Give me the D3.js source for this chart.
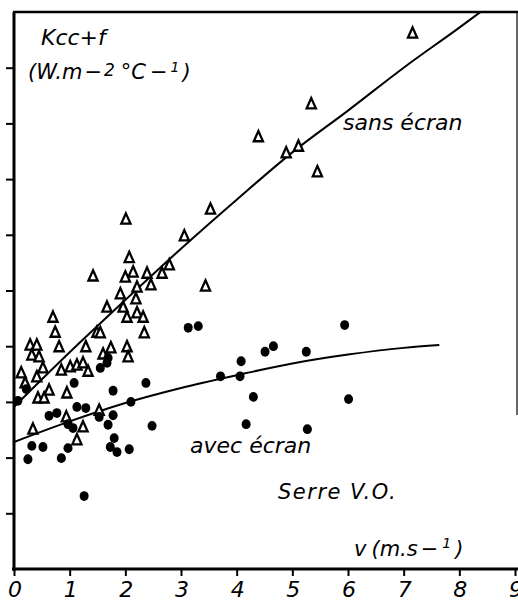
<!DOCTYPE html>
<html>
<head>
<meta charset="utf-8">
<script src="https://cdn.jsdelivr.net/npm/d3@7"></script>
<style>
  body { margin: 0; background: #fff; }
  svg { display: block; }
  text { font-family: "DejaVu Sans", sans-serif; font-style: italic; fill: #000; }
</style>
</head>
<body>
<svg id="chart" width="518" height="603"></svg>
<script>
// Kcc+f vs v (y in tick units, ticks unlabeled)
const sansEcran = [
  [7.16, 9.62], [5.34, 8.35], [4.39, 7.76], [4.89, 7.47], [5.11, 7.59], [5.45, 7.13],
  [3.53, 6.46], [2.01, 6.28], [3.06, 5.98], [2.07, 5.59], [1.42, 5.26], [2.14, 5.33],
  [2.00, 5.24], [2.39, 5.31], [2.21, 5.06], [2.46, 5.10], [2.66, 5.31], [2.79, 5.46],
  [1.91, 4.94], [2.19, 4.85], [1.67, 4.70], [1.96, 4.70], [2.21, 4.60], [2.03, 4.52],
  [2.32, 4.52], [3.44, 5.08], [0.70, 4.52], [0.74, 4.25], [1.49, 4.25], [0.81, 3.99],
  [1.29, 3.99], [1.55, 4.24], [1.74, 3.97], [1.60, 3.86], [2.03, 3.99], [2.05, 3.81],
  [2.34, 4.24], [0.29, 4.02], [0.41, 4.02], [0.32, 3.84], [0.45, 3.81], [0.52, 3.61],
  [0.41, 3.45], [0.85, 3.57], [1.01, 3.63], [1.13, 3.66], [1.24, 3.70], [1.33, 3.55],
  [0.13, 3.52], [0.20, 3.34], [0.63, 3.21], [0.95, 3.16], [0.43, 3.07], [0.54, 3.07],
  [0.94, 2.73], [1.53, 2.85], [0.34, 2.51], [1.24, 2.55], [1.13, 2.32]
];
const avecEcran = [
  [5.27, 2.51], [6.01, 3.05], [5.94, 4.38], [5.25, 3.90], [4.51, 3.90], [4.66, 4.00],
  [3.13, 4.33], [3.31, 4.36], [4.08, 3.73], [3.71, 3.46], [4.06, 3.46], [4.30, 3.09],
  [4.17, 2.60], [2.48, 2.57], [2.37, 3.34], [2.10, 3.00], [1.55, 3.61], [1.67, 3.70],
  [1.69, 3.79], [1.08, 3.34], [0.22, 3.23], [1.78, 3.20], [0.07, 3.02], [1.13, 2.91],
  [1.29, 2.89], [0.63, 2.75], [0.77, 2.80], [0.97, 2.60], [1.06, 2.53], [1.53, 2.73],
  [1.69, 2.59], [1.78, 2.76], [1.80, 2.35], [1.73, 2.19], [1.85, 2.10], [2.07, 2.15],
  [0.32, 2.21], [0.52, 2.19], [0.97, 2.17], [0.25, 1.97], [0.85, 1.99], [1.26, 1.31]
];
// fitted curves as drawn
const sansCurve = [[0, 2.91], [1, 3.89], [2, 4.83], [3, 5.75], [4, 6.63], [5, 7.48], [6, 8.23], [7, 9.0], [8, 9.72], [8.38, 10]];
const avecCurve = [[0, 2.28], [1, 2.65], [2, 2.98], [3, 3.25], [4, 3.48], [5, 3.69], [6, 3.85], [7, 3.97], [7.64, 4.02]];
const xTicks = [0, 1, 2, 3, 4, 5, 6, 7, 8, 9];
const yTicks = [1, 2, 3, 4, 5, 6, 7, 8, 9];

const svg = d3.select("#chart");
const x = d3.scaleLinear().domain([0, 9]).range([14, 515]);
const y = d3.scaleLinear().domain([0, 10]).range([569, 12]);

// axes
svg.append("g")
  .attr("transform", "translate(14,0)")
  .call(d3.axisLeft(y).tickValues(yTicks).tickSize(8).tickFormat(""))
  .call(g => g.select(".domain").remove())
  .selectAll("line").attr("stroke", "#000").attr("stroke-width", 2);

svg.append("g")
  .attr("transform", "translate(0,569)")
  .call(d3.axisBottom(x).tickValues(xTicks).tickSize(7).tickFormat(""))
  .call(g => g.select(".domain").remove())
  .selectAll("line").attr("stroke", "#000").attr("stroke-width", 2);

svg.selectAll(".xlab")
  .data(xTicks)
  .join("text")
    .attr("class", "xlab")
    .attr("x", d => x(d) + 1)
    .attr("y", 597)
    .attr("text-anchor", "middle")
    .attr("font-size", 22)
    .text(d => d);

// frame
svg.append("line").attr("x1", 14).attr("x2", 14).attr("y1", y(10)).attr("y2", 571)
  .attr("stroke", "#000").attr("stroke-width", 3);
svg.append("line").attr("x1", 12).attr("x2", 518).attr("y1", y(0)).attr("y2", y(0))
  .attr("stroke", "#000").attr("stroke-width", 3);
svg.append("line").attr("x1", 13).attr("x2", 518).attr("y1", y(10)).attr("y2", y(10))
  .attr("stroke", "#000").attr("stroke-width", 2.5);
svg.append("line").attr("x1", 517).attr("x2", 517).attr("y1", y(10)).attr("y2", 415)
  .attr("stroke", "#000").attr("stroke-width", 1.2);

// curves
const line = d3.line().x(d => x(d[0])).y(d => y(d[1])).curve(d3.curveMonotoneX);
[sansCurve, avecCurve].forEach(c => {
  svg.append("path").attr("d", line(c))
    .attr("fill", "none").attr("stroke", "#000").attr("stroke-width", 2);
});

// open triangles
const tallTriangle = {
  draw(ctx, size) {
    const h = Math.sqrt(size);
    ctx.moveTo(0, -0.58 * h);
    ctx.lineTo(0.46 * h, 0.45 * h);
    ctx.lineTo(-0.46 * h, 0.45 * h);
    ctx.closePath();
  }
};
svg.append("g")
  .selectAll("path")
  .data(sansEcran)
  .join("path")
    .attr("transform", d => `translate(${x(d[0])},${y(d[1])})`)
    .attr("d", d3.symbol(tallTriangle, 100))
    .attr("fill", "#fff")
    .attr("stroke", "#000")
    .attr("stroke-width", 2.3)
    .attr("stroke-linejoin", "miter");

// filled dots
svg.append("g")
  .selectAll("ellipse")
  .data(avecEcran)
  .join("ellipse")
    .attr("cx", d => x(d[0]))
    .attr("cy", d => y(d[1]))
    .attr("rx", 4.5)
    .attr("ry", 4.9)
    .attr("fill", "#000");

// labels
svg.append("text").attr("x", 41).attr("y", 45).attr("font-size", 22).text("Kcc+f");

const unitY = svg.append("text").attr("x", 28).attr("y", 79).attr("font-size", 21);
unitY.append("tspan").text("(W.m");
unitY.append("tspan").attr("dx", 2).text("\u2212");
unitY.append("tspan").attr("dx", 2).attr("dy", -3).attr("font-size", 17).text("2");
unitY.append("tspan").attr("dx", 6).attr("dy", 3).text("\u00b0C");
unitY.append("tspan").attr("dx", 4).text("\u2212");
unitY.append("tspan").attr("dx", 3).attr("dy", -7).attr("font-size", 14).text("1");
unitY.append("tspan").attr("dx", 3).attr("dy", 7).text(")");

svg.append("text").attr("x", 343).attr("y", 130).attr("font-size", 22).text("sans écran");
svg.append("text").attr("x", 190).attr("y", 453).attr("font-size", 22).text("avec écran");
svg.append("text").attr("x", 278).attr("y", 499).attr("font-size", 21)
  .attr("letter-spacing", 1.5).text("Serre  V.O.");

const unitX = svg.append("text").attr("x", 354).attr("y", 556).attr("font-size", 21);
unitX.append("tspan").text("v");
unitX.append("tspan").attr("dx", 5).text("(m.s");
unitX.append("tspan").attr("dx", 3).text("\u2212");
unitX.append("tspan").attr("dx", 4).attr("dy", -8).attr("font-size", 14).text("1");
unitX.append("tspan").attr("dx", 4).attr("dy", 8).text(")");
</script>
</body>
</html>
